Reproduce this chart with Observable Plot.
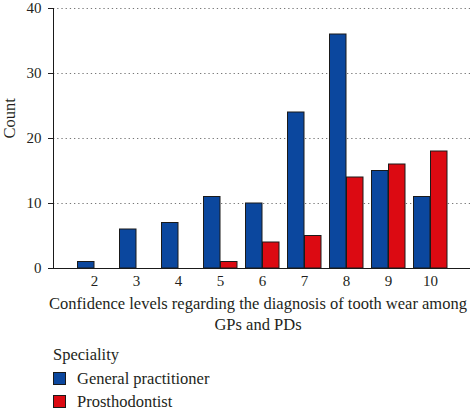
<!DOCTYPE html>
<html><head><meta charset="utf-8">
<script src="https://cdn.jsdelivr.net/npm/d3@7"></script>
<script src="https://cdn.jsdelivr.net/npm/@observablehq/plot@0.6"></script>
<style>
body{margin:0;background:#fff;font-family:"Liberation Serif",serif;color:#231f20;}
#wrap{position:relative;width:472px;height:411px;overflow:hidden;}
#legend{position:absolute;left:53px;top:344px;font-size:16.5px;}
#legend .ttl{height:23px;line-height:22px;}
#legend .item{display:flex;align-items:center;height:23px;}
#legend .sw{width:11px;height:11px;border:1px solid #1a1a1a;margin-right:11px;box-sizing:content-box;}
</style></head><body><div id="wrap"></div>
<script>
const levels = ["2","3","4","5","6","7","8","9","10"];
const gpCounts = [1,6,7,11,10,24,36,15,11];
const pdCounts = [0,0,0,1,4,5,14,16,18];
const seriesNames = ["General practitioner","Prosthodontist"];
const seriesColors = ["#0B479E","#DC0A12"];
const yTicks = [0,10,20,30,40];
const xTitle = "Confidence levels regarding the diagnosis of tooth wear among\nGPs and PDs";
const yTitle = "Count";
const legendTitle = "Speciality";

const gpData = levels.map((l,i)=>({level:l, count:gpCounts[i], series:seriesNames[0]}));
const pdData = levels.map((l,i)=>({level:l, count:pdCounts[i], series:seriesNames[1]})).filter(d=>d.count>0);

const chart = Plot.plot({
  width: 472,
  height: 336,
  marginLeft: 53,
  marginRight: 2,
  marginTop: 8,
  marginBottom: 68,
  style: {fontFamily: "Liberation Serif", fontSize: "15px", color: "#231f20", background: "#fff", overflow: "visible"},
  x: {domain: levels, paddingInner: 0.2, paddingOuter: 0.5, tickSize: 0, tickPadding: 7, label: null},
  y: {domain: [0, 40], ticks: yTicks, tickSize: 5, tickPadding: 7, label: null},
  color: {domain: seriesNames, range: seriesColors},
  marks: [
    Plot.ruleY(yTicks.filter(t=>t>0), {stroke: "#777", strokeDasharray: "1.3,2.9"}),
    Plot.barY(gpData, {x: "level", y: "count", fill: "series", stroke: "#1a1a1a", strokeWidth: 1, insetRight: 17, insetLeft: 0.5}),
    Plot.barY(pdData, {x: "level", y: "count", fill: "series", stroke: "#1a1a1a", strokeWidth: 1, insetLeft: 17.5, insetRight: 0}),
    Plot.ruleY([0], {stroke: "#1a1a1a", insetLeft: -5}),
    Plot.frame({anchor: "left", stroke: "#1a1a1a"}),
    Plot.text([yTitle], {text: d => d, frameAnchor: "left", rotate: -90, dx: -44, fontSize: 16.5, fill: "#231f20"}),
    Plot.text([xTitle], {text: d => d, frameAnchor: "bottom", lineAnchor: "top", dy: 26, dx: -4, lineHeight: 1.25, fontSize: 16.5, fill: "#231f20"})
  ]
});
const wrap = document.getElementById("wrap");
wrap.appendChild(chart);

const lg = document.createElement("div");
lg.id = "legend";
const t = document.createElement("div"); t.className = "ttl"; t.textContent = legendTitle; lg.appendChild(t);
seriesNames.forEach((n,i)=>{
  const it = document.createElement("div"); it.className = "item";
  const sw = document.createElement("span"); sw.className = "sw"; sw.style.background = seriesColors[i];
  const tx = document.createElement("span"); tx.textContent = n;
  it.appendChild(sw); it.appendChild(tx); lg.appendChild(it);
});
wrap.appendChild(lg);
</script></body></html>
